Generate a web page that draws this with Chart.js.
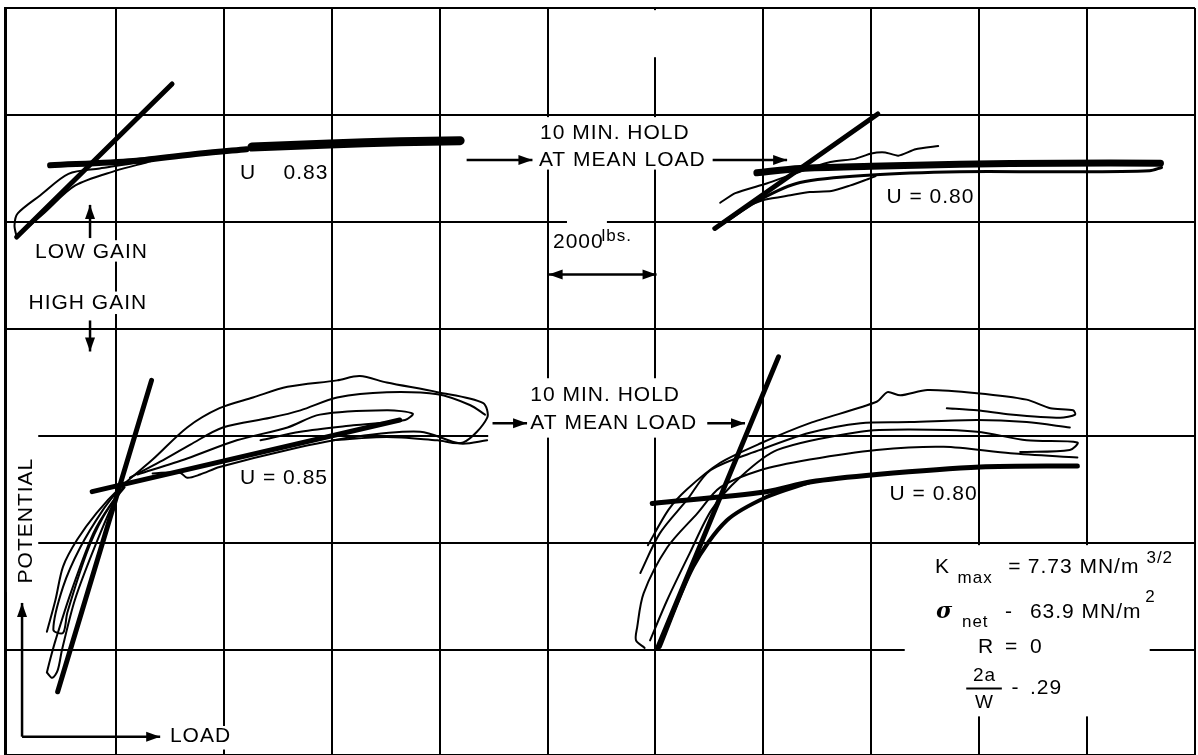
<!DOCTYPE html>
<html>
<head>
<meta charset="utf-8">
<script src="https://cdn.jsdelivr.net/npm/chart.js@4.4.1/dist/chart.umd.min.js"></script>
<style>
  html, body { margin: 0; padding: 0; background: #fff; }
  #wrap { width: 1198px; height: 755px; position: relative; }
</style>
</head>
<body>
<div id="wrap"><canvas id="potentialChart"></canvas></div>
<script>
// units: x = load divisions (2000 lbs each), y = potential divisions
const xGridLines = [1, 2, 3, 4, 5, 6, 7, 8, 9, 10, 11];
const yGridLines = [1, 2, 3, 4, 5, 6, 7];

// low gain, first cycle
const tlSlope = [[1.52, 6.29], [0.08, 4.86]];
const tlTangent = [[0.39, 5.53], [1.16, 5.57], [1.78, 5.64], [2.21, 5.68]];
const tlBand = [[2.26, 5.70], [2.98, 5.73], [3.63, 5.75], [4.19, 5.76]];
const tlLoop = [[0.08, 4.86], [0.34, 5.09], [0.62, 5.34], [1.00, 5.48], [1.32, 5.57], [0.85, 5.50],
  [0.56, 5.45], [0.30, 5.25], [0.09, 5.08], [0.06, 4.97], [0.08, 4.86]];

// low gain, after hold
const trSlope = [[8.06, 6.01], [6.55, 4.94]];
const trBand = [[6.94, 5.46], [7.34, 5.50], [8.00, 5.52], [8.82, 5.54], [9.75, 5.55], [10.68, 5.55]];
const trBandLow = [[6.60, 4.97], [6.97, 5.21], [7.34, 5.37], [8.00, 5.44], [8.82, 5.47], [9.75, 5.47],
  [10.58, 5.48], [10.69, 5.51]];
const trWavyHigh = [[6.60, 5.18], [6.74, 5.27], [7.03, 5.36], [7.34, 5.47], [7.62, 5.56], [7.85, 5.59],
  [8.00, 5.64], [8.13, 5.65], [8.25, 5.62], [8.41, 5.68], [8.62, 5.71]];
const trWavyLow = [[6.62, 5.00], [6.83, 5.14], [7.02, 5.21], [7.25, 5.25], [7.43, 5.28], [7.63, 5.29],
  [7.80, 5.34], [7.94, 5.39], [8.04, 5.43]];

// high gain, first cycle
const blSlope = [[1.33, 3.52], [0.46, 0.61]];
const blTangent = [[0.78, 2.48], [3.63, 3.15]];
const blOuter = [[0.36, 1.17], [0.44, 1.47], [0.51, 1.78], [0.64, 2.03], [0.82, 2.28], [1.04, 2.52],
  [1.34, 2.78], [1.66, 3.08], [1.96, 3.26], [2.27, 3.36], [2.59, 3.46], [3.05, 3.52], [3.26, 3.56],
  [3.51, 3.50], [3.98, 3.41], [4.40, 3.31], [4.44, 3.17], [4.22, 2.94], [3.98, 2.96], [3.51, 2.99], [3.01, 2.96]];
const blInner1 = [[1.13, 2.61], [1.41, 2.76], [1.69, 2.92], [1.99, 3.08], [2.43, 3.17], [2.71, 3.24],
  [3.05, 3.36], [3.51, 3.41], [3.98, 3.39], [4.28, 3.29], [4.42, 3.20]];
const blInner2 = [[1.20, 2.64], [1.66, 2.79], [2.12, 2.96], [2.59, 3.08], [2.89, 3.20], [3.51, 3.24],
  [3.75, 3.21], [3.68, 3.15], [3.20, 3.10], [2.71, 3.04], [2.34, 2.96]];
const blInner3 = [[1.34, 2.65], [1.59, 2.66], [1.66, 2.61], [1.78, 2.64], [1.96, 2.71], [2.59, 2.87],
  [3.20, 2.99], [3.82, 3.04], [4.19, 2.93], [4.44, 2.96]];
const blLowLoop1 = [[1.04, 2.52], [0.88, 2.31], [0.67, 1.96], [0.51, 1.59], [0.42, 1.19], [0.51, 1.16],
  [0.55, 1.35], [0.73, 1.91], [0.88, 2.24], [1.08, 2.54]];
const blLowLoop2 = [[0.36, 0.79], [0.39, 0.91], [0.44, 1.09], [0.58, 1.53], [0.79, 2.09], [0.95, 2.36],
  [1.08, 2.52], [0.99, 2.40], [0.81, 1.98], [0.62, 1.47], [0.50, 1.00], [0.46, 0.81], [0.41, 0.74], [0.36, 0.79]];

// high gain, after hold
const brSlope = [[7.14, 3.74], [6.02, 1.02]];
const brTangent = [[5.97, 2.37], [7.03, 2.48], [7.43, 2.57], [8.05, 2.64], [9.01, 2.71], [9.91, 2.72]];
const brLowEdge = [[6.04, 1.03], [6.35, 1.78], [6.66, 2.21], [7.03, 2.43], [7.43, 2.57]];
const brWavy = [[5.93, 1.98], [6.12, 2.31], [6.29, 2.50], [6.60, 2.75], [6.97, 2.93], [7.43, 3.12],
  [8.05, 3.32], [8.15, 3.41], [8.27, 3.38], [8.52, 3.43], [8.98, 3.40], [9.44, 3.34], [9.66, 3.26],
  [9.87, 3.24], [9.89, 3.20], [9.75, 3.17], [9.29, 3.20], [8.98, 3.24], [8.70, 3.26]];
const brLoop1 = [[5.90, 1.02], [5.82, 1.09], [5.83, 1.21], [5.89, 1.53], [6.11, 1.96], [6.39, 2.28],
  [6.60, 2.52], [6.97, 2.68], [7.43, 2.78], [8.05, 2.87], [8.67, 2.90], [9.29, 2.84], [9.91, 2.80]];
const brLoop2 = [[5.86, 1.72], [6.04, 2.09], [6.29, 2.40], [6.51, 2.68], [6.97, 2.87], [7.43, 3.03],
  [7.90, 3.12], [8.36, 3.13], [8.98, 3.15], [9.44, 3.13], [9.84, 3.08]];
const brLoop3 = [[5.95, 1.09], [6.11, 1.47], [6.32, 1.91], [6.52, 2.31], [6.78, 2.61], [7.13, 2.87],
  [7.90, 3.04], [8.36, 3.06], [8.98, 3.04], [9.44, 2.96], [9.91, 2.94], [9.84, 2.87], [9.38, 2.85]];

// annotations (same units)
const whiteBoxes = [
  [4.88, 5.98, 6.60, 5.49], [5.18, 5.03, 5.55, 4.97], [4.45, 3.54, 6.86, 2.985],
  [-0.01, 3.06, 0.28, 1.54], [8.31, 1.98, 10.58, 0.38], [5.95, 6.98, 6.08, 6.54],
  [0.20, 4.83, 1.32, 4.63], [0.16, 4.35, 1.35, 4.14], [1.46, 0.29, 2.12, 0.07]
];
const textLabels = [
  ['U    0.83', 2.15, 5.46], ['10 MIN. HOLD', 4.93, 5.83], ['AT MEAN LOAD', 4.92, 5.58],
  ['U = 0.80', 8.14, 5.23], ['LOW GAIN', 0.25, 4.72], ['HIGH GAIN', 0.19, 4.24],
  ['10 MIN. HOLD', 4.84, 3.38], ['AT MEAN LOAD', 4.84, 3.12], ['U = 0.85', 2.15, 2.61],
  ['U = 0.80', 8.17, 2.46], ['LOAD', 1.50, 0.19], ['2000', 5.05, 4.81],
  ['=', 9.27, 1.77], ['7.73 MN/m', 9.45, 1.77], ['-', 9.24, 1.35], ['63.9 MN/m', 9.47, 1.35],
  ['R', 8.99, 1.03], ['=', 9.24, 1.03], ['0', 9.47, 1.03], ['-', 9.30, 0.64], ['.29', 9.47, 0.64],
  ['K', 8.59, 1.77]
];
const smallLabels = [
  ['lbs.', 5.50, 4.87], ['max', 8.80, 1.67], ['3/2', 10.55, 1.86], ['net', 8.84, 1.26], ['2', 10.54, 1.49]
];
const arrows = [
  [4.25, 5.58, 4.86, 5.58], [6.53, 5.58, 7.22, 5.58], [0.76, 4.85, 0.76, 5.16], [0.76, 4.08, 0.76, 3.79],
  [4.49, 3.12, 4.81, 3.12], [6.48, 3.12, 6.83, 3.12], [0.13, 0.19, 0.13, 1.44], [0.13, 0.19, 1.41, 0.19]
];
const doubleArrows = [[5.01, 4.51, 6.01, 4.51]];

function curve(data, width, tension) {
  return {
    data: data.map(p => ({ x: p[0], y: p[1] })),
    showLine: true,
    borderColor: '#000',
    borderWidth: width,
    tension: tension,
    pointRadius: 0,
    borderCapStyle: 'round',
    borderJoinStyle: 'round'
  };
}

function arrowHead(ctx, x1, y1, x2, y2) {
  const a = Math.atan2(y2 - y1, x2 - x1);
  ctx.beginPath();
  ctx.moveTo(x2, y2);
  ctx.lineTo(x2 - 14 * Math.cos(a) + 5 * Math.sin(a), y2 - 14 * Math.sin(a) - 5 * Math.cos(a));
  ctx.lineTo(x2 - 14 * Math.cos(a) - 5 * Math.sin(a), y2 - 14 * Math.sin(a) + 5 * Math.cos(a));
  ctx.closePath();
  ctx.fill();
}

const notes = {
  id: 'notes',
  beforeDatasetsDraw(chart) {
    const { ctx, scales: { x, y } } = chart;
    ctx.save();
    ctx.fillStyle = '#fff';
    whiteBoxes.forEach(b => {
      const x1 = x.getPixelForValue(b[0]), y1 = y.getPixelForValue(b[1]);
      ctx.fillRect(x1, y1, x.getPixelForValue(b[2]) - x1, y.getPixelForValue(b[3]) - y1);
    });
    ctx.restore();
  },
  afterDatasetsDraw(chart) {
    const { ctx, scales: { x, y } } = chart;
    ctx.save();
    ctx.fillStyle = '#000';
    ctx.strokeStyle = '#000';
    ctx.textBaseline = 'middle';
    ctx.letterSpacing = '1px';
    ctx.font = '21px "Liberation Sans", Arial, sans-serif';
    textLabels.forEach(t => ctx.fillText(t[0], x.getPixelForValue(t[1]), y.getPixelForValue(t[2])));
    ctx.font = '17px "Liberation Sans", Arial, sans-serif';
    smallLabels.forEach(t => ctx.fillText(t[0], x.getPixelForValue(t[1]), y.getPixelForValue(t[2])));

    // sigma
    ctx.font = 'italic bold 22px "DejaVu Serif", serif';
    ctx.fillText('σ', x.getPixelForValue(8.60), y.getPixelForValue(1.35));
    // 2a / W
    ctx.font = '19px "Liberation Sans", Arial, sans-serif';
    ctx.textAlign = 'center';
    ctx.fillText('2a', x.getPixelForValue(9.05), y.getPixelForValue(0.76));
    ctx.fillText('W', x.getPixelForValue(9.05), y.getPixelForValue(0.51));
    ctx.lineWidth = 2;
    ctx.beginPath();
    ctx.moveTo(x.getPixelForValue(8.88), y.getPixelForValue(0.64));
    ctx.lineTo(x.getPixelForValue(9.21), y.getPixelForValue(0.64));
    ctx.stroke();

    // POTENTIAL
    ctx.save();
    ctx.translate(x.getPixelForValue(0.17), y.getPixelForValue(2.21));
    ctx.rotate(-Math.PI / 2);
    ctx.font = '21px "Liberation Sans", Arial, sans-serif';
    ctx.fillText('POTENTIAL', 0, 0);
    ctx.restore();

    ctx.lineWidth = 2.5;
    arrows.forEach(a => {
      const x1 = x.getPixelForValue(a[0]), y1 = y.getPixelForValue(a[1]);
      const x2 = x.getPixelForValue(a[2]), y2 = y.getPixelForValue(a[3]);
      ctx.beginPath(); ctx.moveTo(x1, y1); ctx.lineTo(x2, y2); ctx.stroke();
      arrowHead(ctx, x1, y1, x2, y2);
    });
    doubleArrows.forEach(a => {
      const x1 = x.getPixelForValue(a[0]), y1 = y.getPixelForValue(a[1]);
      const x2 = x.getPixelForValue(a[2]), y2 = y.getPixelForValue(a[3]);
      ctx.beginPath(); ctx.moveTo(x1, y1); ctx.lineTo(x2, y2); ctx.stroke();
      arrowHead(ctx, x1, y1, x2, y2);
      arrowHead(ctx, x2, y2, x1, y1);
    });
    ctx.restore();
  }
};

const ctx = document.getElementById('potentialChart').getContext('2d');
new Chart(ctx, {
  type: 'scatter',
  data: {
    datasets: [
      curve(tlSlope, 5, 0), curve(tlTangent, 6, 0.3), curve(tlBand, 9, 0.3), curve(tlLoop, 2, 0.3),
      curve(trSlope, 5, 0), curve(trBand, 7, 0.3), curve(trBandLow, 3, 0.3),
      curve(trWavyHigh, 2, 0.2), curve(trWavyLow, 2, 0.2),
      curve(blSlope, 5, 0), curve(blTangent, 5, 0), curve(blOuter, 2, 0.3),
      curve(blInner1, 2, 0.3), curve(blInner2, 2, 0.3), curve(blInner3, 2, 0.3),
      curve(blLowLoop1, 2, 0.3), curve(blLowLoop2, 2, 0.3),
      curve(brSlope, 5, 0), curve(brTangent, 5, 0.3), curve(brLowEdge, 4, 0.3),
      curve(brWavy, 2, 0.25), curve(brLoop1, 2, 0.3), curve(brLoop2, 2, 0.3), curve(brLoop3, 2, 0.3)
    ]
  },
  options: {
    responsive: true,
    maintainAspectRatio: false,
    animation: false,
    layout: { padding: { left: 5, top: 8, right: 3, bottom: 0 } },
    plugins: { legend: { display: false }, tooltip: { enabled: false } },
    scales: {
      x: {
        type: 'linear', min: -0.028, max: 11,
        afterBuildTicks: axis => { axis.ticks = xGridLines.map(v => ({ value: v })); },
        ticks: { display: false },
        grid: { color: '#000', lineWidth: 2, drawTicks: false },
        border: { display: true, color: '#000', width: 3 }
      },
      y: {
        type: 'linear', min: 0.019, max: 7,
        afterBuildTicks: axis => { axis.ticks = yGridLines.map(v => ({ value: v })); },
        ticks: { display: false },
        grid: { color: '#000', lineWidth: 2, drawTicks: false },
        border: { display: true, color: '#000', width: 3 }
      }
    }
  },
  plugins: [notes]
});
</script>
</body>
</html>
